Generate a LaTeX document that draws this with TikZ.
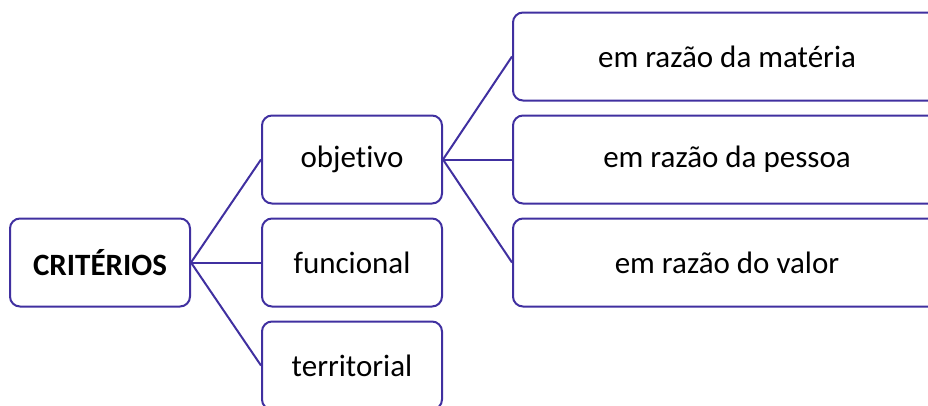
\documentclass[tikz,border=0pt]{standalone}
\usepackage{fontspec}
\setmainfont{Carlito}[Ligatures=NoCommon]
\usetikzlibrary{positioning}

\definecolor{boxblue}{RGB}{64,48,160}

\tikzset{
	box/.style={draw=boxblue, line width=2pt, rounded corners=10pt, fill=white,
		minimum width=180pt, minimum height=88pt, inner sep=0pt, align=center,
		font=\fontsize{31}{37}\selectfont},
	widebox/.style={box, minimum width=428pt},
	link/.style={draw=boxblue, line width=2pt}
}

\begin{document}
\begin{tikzpicture}[x=1pt,y=1pt]
	\useasboundingbox (0,0) rectangle (928,-405);
	\begin{scope}
	\clip (0,0) rectangle (928,-405);
	% criterios
	\node[box] (criterios) at (100,-262.5) {\textbf{CRITÉRIOS}};
	\node[box, right=70pt of criterios] (funcional) {funcional};
	\node[box, above=13pt of funcional] (objetivo) {objetivo};
	\node[box, below=13pt of funcional] (territorial) {territorial};
	% objetivo
	\node[widebox, right=69pt of objetivo] (pessoa) {em razão da pessoa};
	\node[widebox, above=13pt of pessoa] (materia) {em razão da matéria};
	\node[widebox, below=13pt of pessoa] (valor) {em razão do valor};
	% links
	\foreach \t in {objetivo,funcional,territorial}
		\draw[link] (criterios.east) -- (\t.west);
	\foreach \t in {materia,pessoa,valor}
		\draw[link] (objetivo.east) -- (\t.west);
	\end{scope}
\end{tikzpicture}
\end{document}
